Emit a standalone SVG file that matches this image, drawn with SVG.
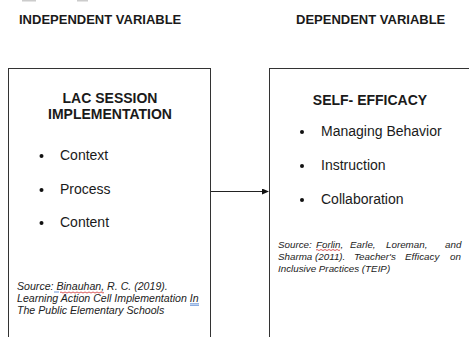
<svg xmlns="http://www.w3.org/2000/svg" width="469" height="337" viewBox="0 0 469 337">
<style>
.hdr{font-family:"Liberation Sans",Arial,sans-serif;font-weight:bold;font-size:13px;fill:#1a1a1a}
.ttl{font-family:"Liberation Sans",Arial,sans-serif;font-weight:bold;font-size:14px;fill:#1a1a1a}
.itm{font-family:"Liberation Sans",Arial,sans-serif;font-size:14px;fill:#1a1a1a}
.src{font-family:"Liberation Sans",Arial,sans-serif;font-style:italic;font-size:9.8px;fill:#222}
.srcl{font-family:"Liberation Sans",Arial,sans-serif;font-style:italic;font-size:10.6px;fill:#222}
.box{fill:#fff;stroke:#333;stroke-width:1}
.dot{fill:#111}
.red{fill:none;stroke:#d03030;stroke-width:0.8}
.blu{fill:none;stroke:#4a7fd0;stroke-width:0.8}
</style>
<defs>
<marker id="ah" markerWidth="7" markerHeight="6" refX="6" refY="3" orient="auto" markerUnits="userSpaceOnUse">
<path d="M0,0 L7,3 L0,6 Z" fill="#111"/>
</marker>
</defs>
<rect width="469" height="337" fill="#fff"/>
<rect x="22" y="0" width="14" height="1.5" fill="#ccc"/>
<rect x="77" y="0" width="11" height="1.5" fill="#ccc"/>
<text class="hdr" x="19" y="24">INDEPENDENT VARIABLE</text>
<text class="hdr" x="296" y="24">DEPENDENT VARIABLE</text>
<g id="connectors">
<line x1="211" y1="191.5" x2="268" y2="191.5" stroke="#222" stroke-width="1" marker-end="url(#ah)"/>
</g>
<g id="node-lac">
<rect class="box" x="8.5" y="68.5" width="202" height="280"/>
<text class="ttl" x="110" y="103" text-anchor="middle">LAC SESSION</text>
<text class="ttl" x="110" y="119" text-anchor="middle">IMPLEMENTATION</text>
<circle class="dot" cx="41.5" cy="156" r="2"/>
<text class="itm" x="60" y="160">Context</text>
<circle class="dot" cx="41.5" cy="190" r="2"/>
<text class="itm" x="60" y="194">Process</text>
<circle class="dot" cx="41.5" cy="223" r="2"/>
<text class="itm" x="60" y="227">Content</text>
<text class="srcl" x="17" y="290">Source:  Binauhan, R. C. (2019).</text>
<text class="srcl" x="17" y="302">Learning Action Cell Implementation In</text>
<text class="srcl" x="17" y="313.5">The Public Elementary Schools</text>
<path class="blu" d="M54,292 H59"/>
<path class="red" d="M60,292.5 q1,-1 2,0 t2,0 t2,0 t2,0 t2,0 t2,0 t2,0 t2,0 t2,0 t2,0 t2,0 t2,0 t2,0 t2,0 t2,0 t2,0 t2,0 t2,0 t2,0 t2,0 t2,0 t2,0"/>
<path class="blu" d="M190,303.8 H199 M190,305.3 H199"/>
</g>
<g id="node-self">
<rect class="box" x="269.5" y="68.5" width="210" height="280"/>
<text class="ttl" x="370" y="105" text-anchor="middle">SELF- EFFICACY</text>
<circle class="dot" cx="302" cy="132" r="2"/>
<text class="itm" x="321" y="136">Managing Behavior</text>
<circle class="dot" cx="302" cy="166" r="2"/>
<text class="itm" x="321" y="170">Instruction</text>
<circle class="dot" cx="302" cy="200" r="2"/>
<text class="itm" x="321" y="204">Collaboration</text>
<text class="src" y="248"><tspan x="278">Source:</tspan><tspan x="316">Forlin,</tspan><tspan x="350">Earle,</tspan><tspan x="386">Loreman,</tspan><tspan x="445">and</tspan></text>
<text class="src" y="260"><tspan x="278">Sharma</tspan><tspan x="315">(2011).</tspan><tspan x="354">Teacher's</tspan><tspan x="405">Efficacy</tspan><tspan x="450">on</tspan></text>
<text class="src" x="278" y="271.5">Inclusive Practices (TEIP)</text>
<path class="red" d="M316,250 q1,-1 2,0 t2,0 t2,0 t2,0 t2,0 t2,0 t2,0 t2,0 t2,0 t2,0 t2,0 t2,0"/>
</g>
</svg>
